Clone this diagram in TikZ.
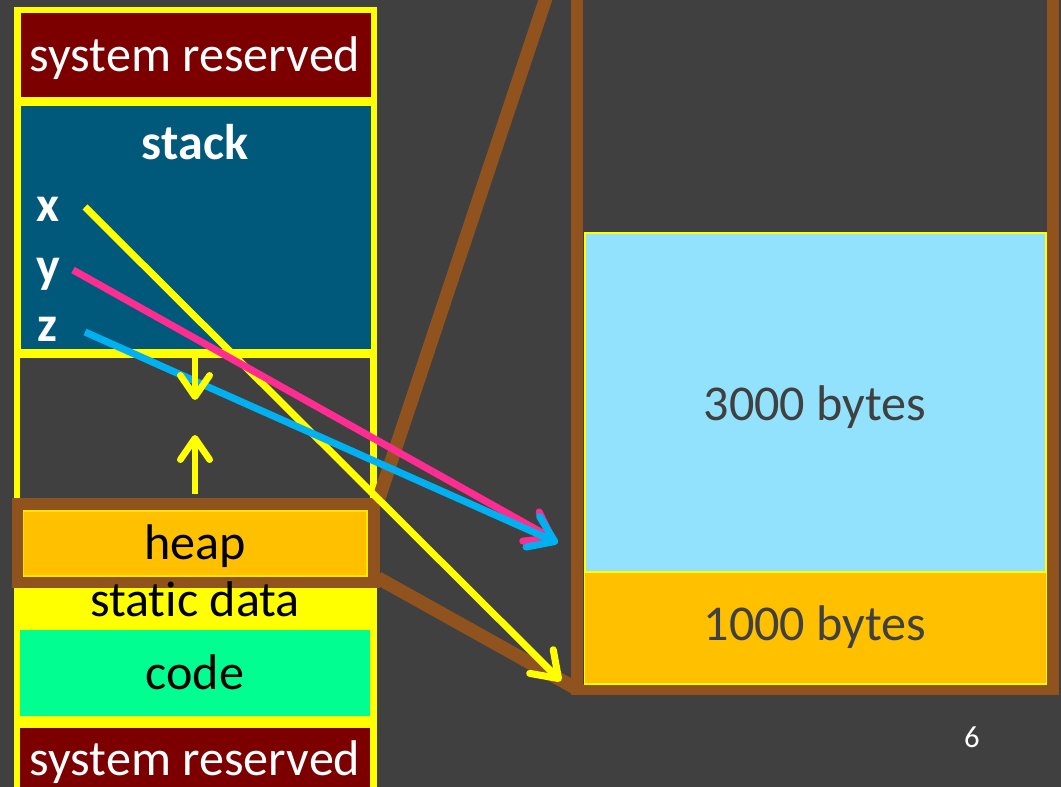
\documentclass[tikz,border=0pt]{standalone}
\usepackage{fontspec}
\setmainfont{Carlito}[Ligatures=NoCommon]
\usetikzlibrary{arrows.meta,fit}

\definecolor{bg}{RGB}{64,64,64}
\definecolor{sysred}{RGB}{124,0,0}
\definecolor{stackblue}{RGB}{0,89,122}
\definecolor{framebrown}{RGB}{145,83,30}
\definecolor{heaporange}{RGB}{255,192,0}
\definecolor{codegreen}{RGB}{0,255,144}
\definecolor{lightblue}{RGB}{147,226,253}
\definecolor{ptrpink}{RGB}{255,45,145}
\definecolor{ptrblue}{RGB}{0,176,240}
\definecolor{txtgray}{RGB}{64,64,64}
\definecolor{segyellow}{RGB}{255,255,0}

\tikzset{
  region/.style={inner sep=0pt, outer sep=0pt},
  lbl/.style={anchor=base, inner sep=0pt, font=\fontsize{37.6}{44}\selectfont},
  wlbl/.style={lbl, text=white},
  blbl/.style={lbl, text=white, font=\fontsize{37.6}{44}\selectfont\bfseries},
  klbl/.style={lbl, text=black},
  glbl/.style={lbl, text=txtgray},
  ptr/.style={line width=5.3pt,
    -{Straight Barb[length=18pt, width=25pt, round]}},
  growarrow/.style={segyellow, line width=5pt,
    -{Straight Barb[length=16pt, width=22pt, round]}},
  zoomline/.style={framebrown, line width=10pt}
}

\begin{document}
\begin{tikzpicture}[x=0.75pt, y=-0.75pt]
  % page
  \useasboundingbox (0,0) rectangle (1061,787);
  \fill[bg] (0,0) rectangle (1061,787);
  \clip (0,0) rectangle (1061,787);

  % ---- enlarged heap block on the right ----
  \node[region, fill=framebrown, fit={(571,-20) (1059,695)}] (frame) {};
  \node[region, fill=bg, fit={(583,-20) (1047,684)}] (frameinside) {};
  \node[region, fill=lightblue, draw=segyellow, line width=1.5pt,
        fit={(584.5,233.5) (1046,572)}] (big) {};
  \node[region, fill=heaporange, draw=segyellow, line width=1pt,
        fit={(584.5,572) (1046.5,684)}] (small) {};
  \node[glbl] (bigtext) at (815,421) {3000 bytes};
  \node[glbl] (smalltext) at (815,641) {1000 bytes};

  % ---- memory layout column ----
  \node[region, fill=segyellow, fit={(14,7) (377,800)}] (column) {};
  \node[region, fill=sysred, fit={(20.5,13) (370.5,97)}] (systop) {};
  \node[region, fill=stackblue, fit={(20.5,106) (370.5,349)}] (stack) {};
  \node[region, fill=bg, fit={(20,358) (370,560)}] (gap) {};
  \node[region, fill=codegreen, fit={(20,630) (370,716)}] (code) {};
  \node[region, fill=sysred, fit={(20,728) (370,800)}] (sysbot) {};

  % heap segment with its highlight frame
  \node[region, fill=framebrown, fit={(11.5,498) (380,588)}] (heapframe) {};
  \node[region, fill=heaporange, draw=segyellow!60!heaporange, line width=0.8pt,
        fit={(23.5,511) (367,576)}] (heap) {};

  % zoom lines from the heap frame to the enlarged block
  \coordinate (zt0) at (379,498);
  \coordinate (zt1) at (577,-95);
  \coordinate (zb0) at (378,578);
  \coordinate (zb1) at (577,689);
  \draw[zoomline] (zt0) -- (zt1);
  \draw[zoomline] (zb0) -- (zb1);

  % segment labels
  \node[wlbl] (systoptext) at (195,72) {system reserved};
  \node[blbl] (stacktext) at (195,160) {stack};
  \node[blbl] (xlab) at (48,222) {x};
  \node[blbl] (ylab) at (48,283) {y};
  \node[blbl] (zlab) at (47,342) {z};
  \node[klbl] (heaptext) at (195,560) {heap};
  \node[klbl] (statictext) at (195,617) {static data};
  \node[klbl] (codetext) at (195,690) {code};
  \node[wlbl] (sysbottext) at (195,775) {system reserved};

  % slide number
  \node[anchor=base, inner sep=0pt, text=white, font=\fontsize{23}{27}\selectfont]
    (pagenum) at (972,747) {6};

  % growth directions of stack and heap
  \coordinate (sdown0) at (195,357);
  \coordinate (sdown1) at (195,400);
  \coordinate (hup0) at (195,494);
  \coordinate (hup1) at (195,435);

  % pointer variables
  \coordinate (xs) at (85,207);
  \coordinate (xe) at (561,681);
  \coordinate (ys) at (73,270);
  \coordinate (ye) at (555,540);
  \coordinate (zs) at (85,332);
  \coordinate (ze) at (558,543);
  \draw[ptr, segyellow] (xs) -- (xe);
  \draw[ptr, ptrpink] (ys) -- (ye);
  \draw[ptr, ptrblue] (zs) -- (ze);

  \draw[growarrow] (sdown0) -- (sdown1);
  \draw[growarrow] (hup0) -- (hup1);
\end{tikzpicture}
\end{document}
